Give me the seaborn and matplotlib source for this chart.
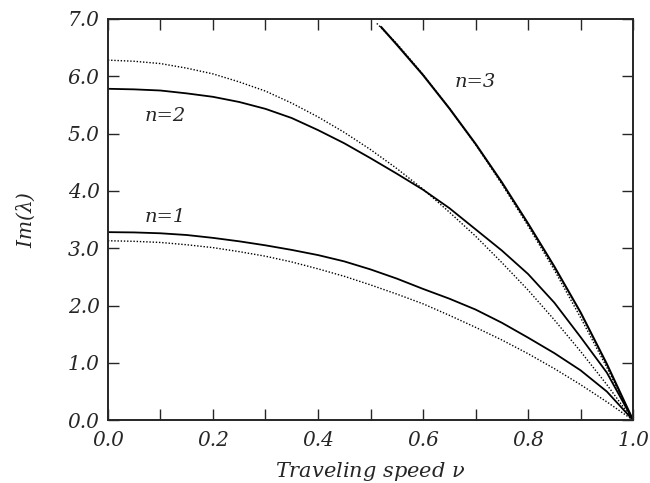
import matplotlib
matplotlib.use("Agg")
import matplotlib.pyplot as plt
from matplotlib.ticker import MultipleLocator, FormatStrFormatter
import seaborn as sns
import pandas as pd

# ---- data ----
v_grid = [0.0, 0.05, 0.1, 0.15, 0.2, 0.25, 0.3, 0.35, 0.4, 0.45, 0.5,
          0.55, 0.6, 0.65, 0.7, 0.75, 0.8, 0.85, 0.9, 0.95, 1.0]
n1_solid = [3.28, 3.275, 3.26, 3.23, 3.18, 3.12, 3.05, 2.97, 2.88, 2.77, 2.63,
            2.47, 2.29, 2.12, 1.93, 1.70, 1.44, 1.17, 0.87, 0.50, 0.0]
n1_dotted = [3.13, 3.12, 3.10, 3.06, 3.01, 2.94, 2.86, 2.76, 2.64, 2.51, 2.36,
             2.20, 2.03, 1.83, 1.62, 1.40, 1.16, 0.90, 0.62, 0.32, 0.0]
n2_solid = [5.78, 5.77, 5.75, 5.70, 5.64, 5.55, 5.43, 5.27, 5.06, 4.83, 4.57,
            4.30, 4.02, 3.70, 3.33, 2.96, 2.55, 2.05, 1.45, 0.83, 0.0]
n2_dotted = [6.28, 6.26, 6.22, 6.14, 6.04, 5.90, 5.74, 5.53, 5.29, 5.02, 4.72,
             4.39, 4.03, 3.63, 3.21, 2.75, 2.27, 1.75, 1.20, 0.62, 0.0]

v3_solid = [0.52, 0.55, 0.6, 0.65, 0.7, 0.75, 0.8, 0.85, 0.9, 0.95, 1.0]
n3_solid = [6.86, 6.55, 6.02, 5.44, 4.82, 4.15, 3.43, 2.68, 1.88, 0.98, 0.0]
v3_dotted = [0.512, 0.55, 0.6, 0.65, 0.7, 0.75, 0.8, 0.85, 0.9, 0.95, 1.0]
n3_dotted = [6.92, 6.57, 6.03, 5.44, 4.81, 4.12, 3.39, 2.62, 1.79, 0.92, 0.0]

labels = ["n=1", "n=2", "n=3"]
label_pos = [(0.11, 3.55), (0.11, 5.31), (0.70, 5.89)]

x_ticks = [0.0, 0.2, 0.4, 0.6, 0.8, 1.0]
y_ticks = [0.0, 1.0, 2.0, 3.0, 4.0, 5.0, 6.0, 7.0]

sns.set_style("ticks")
plt.rcParams["font.family"] = ["DejaVu Serif"]
plt.rcParams["font.style"] = "italic"
plt.rcParams["mathtext.fontset"] = "dejavuserif"

fig = plt.figure(figsize=(6.5, 4.83), dpi=100)
ax = fig.add_axes([0.166, 0.130, 0.808, 0.831])

dot = (0, (1.0, 1.3))
series = [
    (v_grid, n1_solid, "-", 1.3),
    (v_grid, n1_dotted, dot, 1.0),
    (v_grid, n2_solid, "-", 1.3),
    (v_grid, n2_dotted, dot, 1.0),
    (v3_solid, n3_solid, "-", 1.5),
    (v3_dotted, n3_dotted, dot, 1.0),
]
for xs, ys, ls, lw in series:
    df = pd.DataFrame({"v": xs, "im": ys})
    sns.lineplot(data=df, x="v", y="im", ax=ax, color="black",
                 linestyle=ls, linewidth=lw, sort=False, estimator=None)

for (lx, ly), txt in zip(label_pos, labels):
    ax.text(lx, ly, txt, ha="center", va="center",
            fontsize=14, style="italic")

ax.set_xlim(0, 1.0)
ax.set_ylim(0, 7.0)
ax.set_xticks(x_ticks)
ax.set_yticks(y_ticks)
ax.xaxis.set_minor_locator(MultipleLocator(0.1))
ax.xaxis.set_major_formatter(FormatStrFormatter("%.1f"))
ax.yaxis.set_major_formatter(FormatStrFormatter("%.1f"))
ax.tick_params(which="both", direction="in", top=True, right=True,
               length=8, width=1.0, labelsize=14.5)
ax.tick_params(axis="x", pad=8)
ax.tick_params(axis="y", pad=6)
for s in ax.spines.values():
    s.set_linewidth(1.4)
    s.set_visible(True)

ax.set_xlabel(r"Traveling speed $\it{\nu}$", fontsize=15, style="italic", labelpad=7)
ax.set_ylabel(r"Im($\it{\lambda}$)", fontsize=14.5, style="italic", labelpad=22)

fig.savefig("out.png", dpi=100)
